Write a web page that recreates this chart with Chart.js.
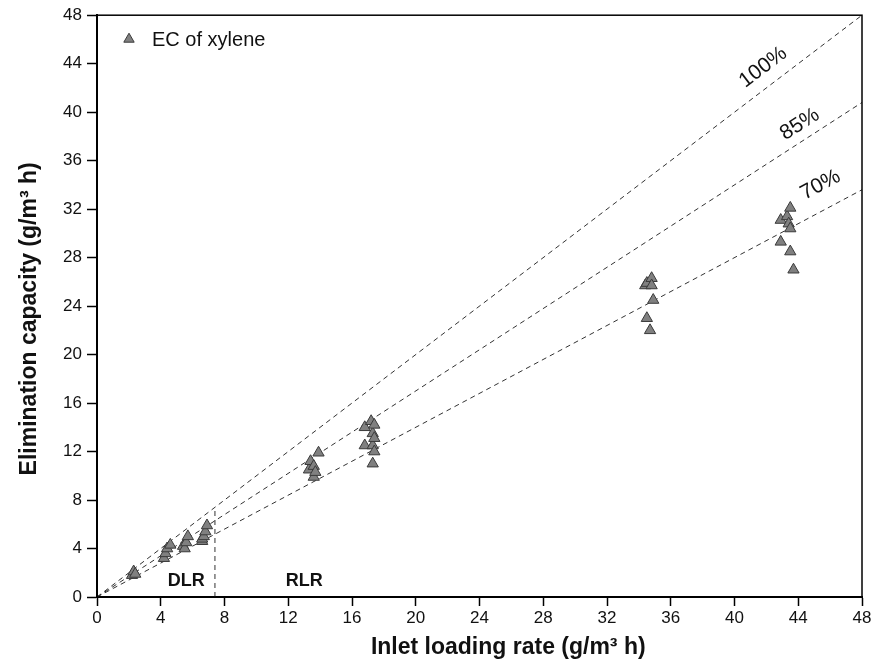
<!DOCTYPE html>
<html>
<head>
<meta charset="utf-8">
<script src="https://cdn.jsdelivr.net/npm/chart.js@4.4.0/dist/chart.umd.min.js"></script>
<style>
html, body { margin: 0; padding: 0; background: #fff; }
#wrap { width: 874px; height: 665px; }
</style>
</head>
<body>
<div id="wrap"><canvas id="ec"></canvas></div>
<script>
// inlet loading rate (g/m3 h) and elimination capacity (g/m3 h) of xylene
const ilr = [2.2, 2.3, 2.4,
    4.2, 4.3, 4.4, 4.6,
    5.4, 5.5, 5.6, 5.7,
    6.6, 6.6, 6.7, 6.8, 6.9,
    13.3, 13.4, 13.6, 13.6, 13.7, 13.9,
    16.8, 16.8, 17.2, 17.3, 17.3, 17.3, 17.4, 17.4, 17.4,
    34.4, 34.5, 34.5, 34.7, 34.8, 34.8, 34.9,
    42.9, 42.9, 43.3, 43.4, 43.5, 43.5, 43.5, 43.7]
const ecXylene = [1.8, 2.1, 1.9,
    3.2, 3.6, 4.0, 4.3,
    4.2, 4.0, 4.5, 5.0,
    4.6, 4.8, 5.0, 5.4, 5.9,
    10.5, 11.2, 10.8, 9.9, 10.3, 11.9,
    14.0, 12.5, 14.5, 13.5, 12.5, 11.0, 14.2, 13.1, 12.0,
    25.7, 25.9, 23.0, 22.0, 26.3, 25.7, 24.5,
    31.1, 29.3, 31.4, 30.8, 32.1, 30.4, 28.5, 27.0]

// removal efficiency guide lines, end points at x = 0 and x = 48
const lineX = [0, 48]
const line100 = [0, 48]
const line85 = [0, 40.8]
const line70 = [0, 33.6]
// boundary between DLR and RLR
const boundX = [7.4, 7.4]
const boundY = [0, 7.4]

const ticksX = [0, 4, 8, 12, 16, 20, 24, 28, 32, 36, 40, 44, 48]
const ticksY = [0, 4, 8, 12, 16, 20, 24, 28, 32, 36, 40, 44, 48]

function pts(xs, ys) {
    return xs.map((x, i) => ({ x: x, y: ys[i] }))
}

const guideStyle = {
    type: 'line',
    borderColor: '#333',
    borderWidth: 1,
    borderDash: [5, 4],
    pointRadius: 0,
    fill: false,
    showLine: true
}

// text notes placed in data units
const notes = [
    { text: '100%', x: 41.8, y: 43.7, slope: 1.0, font: '21px "Liberation Sans", Arial' },
    { text: '85%', x: 44.1, y: 39.0, slope: 0.85, font: '21px "Liberation Sans", Arial' },
    { text: '70%', x: 45.4, y: 34.0, slope: 0.70, font: '21px "Liberation Sans", Arial' },
    { text: 'DLR', x: 5.6, y: 1.3, slope: 0, font: 'bold 18px "Liberation Sans", Arial' },
    { text: 'RLR', x: 13.0, y: 1.3, slope: 0, font: 'bold 18px "Liberation Sans", Arial' }
]

const notePlugin = {
    id: 'notes',
    afterDatasetsDraw(chart) {
        const ctx = chart.ctx
        const xs = chart.scales.x, ys = chart.scales.y
        const a = chart.chartArea
        ctx.save()
        notes.forEach(n => {
            const px = xs.getPixelForValue(n.x)
            const py = ys.getPixelForValue(n.y)
            const dx = xs.getPixelForValue(10) - xs.getPixelForValue(0)
            const dy = ys.getPixelForValue(10 * n.slope) - ys.getPixelForValue(0)
            ctx.translate(px, py)
            ctx.rotate(Math.atan2(dy, dx))
            ctx.font = n.font
            ctx.fillStyle = '#111'
            ctx.textAlign = 'center'
            ctx.textBaseline = 'middle'
            ctx.fillText(n.text, 0, 0)
            ctx.setTransform(1, 0, 0, 1, 0, 0)
        })

        // legend in the top left corner of the plot
        const ds = chart.data.datasets[0]
        ctx.fillStyle = ds.pointBackgroundColor
        ctx.strokeStyle = ds.pointBorderColor
        ctx.lineWidth = 1
        Chart.helpers.drawPoint(ctx, { pointStyle: 'triangle', radius: 6, borderWidth: 1 },
            a.left + 32, a.top + 24)
        ctx.fillStyle = '#111'
        ctx.font = '20px "Liberation Sans", Arial'
        ctx.textAlign = 'left'
        ctx.textBaseline = 'middle'
        ctx.fillText(ds.label, a.left + 55, a.top + 25)

        // frame on top and right
        ctx.strokeStyle = '#000'
        ctx.lineWidth = 1.5
        ctx.strokeRect(a.left, a.top, a.right - a.left, a.bottom - a.top)
        ctx.restore()
    }
}

const tickFont = { family: '"Liberation Sans", Arial', size: 17 }
const titleFont = { family: '"Liberation Sans", Arial', size: 23, weight: 'bold' }

new Chart(document.getElementById('ec'), {
    type: 'scatter',
    data: {
        datasets: [
            {
                label: 'EC of xylene',
                data: pts(ilr, ecXylene),
                pointStyle: 'triangle',
                pointRadius: 6.5,
                pointBackgroundColor: '#808080',
                pointBorderColor: '#3a3a3a',
                pointBorderWidth: 1,
                backgroundColor: '#808080',
                borderColor: '#3a3a3a'
            },
            Object.assign({ label: '100%', data: pts(lineX, line100) }, guideStyle),
            Object.assign({ label: '85%', data: pts(lineX, line85) }, guideStyle),
            Object.assign({ label: '70%', data: pts(lineX, line70) }, guideStyle),
            Object.assign({ label: 'bound', data: pts(boundX, boundY) }, guideStyle)
        ]
    },
    options: {
        responsive: true,
        maintainAspectRatio: false,
        animation: false,
        layout: { padding: { top: 15, right: 12, left: 0, bottom: 0 } },
        plugins: {
            tooltip: { enabled: false },
            legend: { display: false }
        },
        scales: {
            x: {
                type: 'linear',
                min: 0,
                max: 48,
                afterBuildTicks: s => { s.ticks = ticksX.map(v => ({ value: v })) },
                afterFit: s => { s.height = 68 },
                grid: { drawOnChartArea: false, tickLength: 9, color: '#000', tickWidth: 1.5 },
                border: { color: '#000', width: 2 },
                ticks: { color: '#111', font: tickFont, padding: 2, maxRotation: 0 },
                title: {
                    display: true,
                    text: '         Inlet loading rate (g/m³ h)',
                    color: '#111',
                    font: titleFont,
                    padding: { top: 0, bottom: 4 }
                }
            },
            y: {
                type: 'linear',
                min: 0,
                max: 48,
                afterBuildTicks: s => { s.ticks = ticksY.map(v => ({ value: v })) },
                afterFit: s => { s.width = 97 },
                grid: { drawOnChartArea: false, tickLength: 10, color: '#000', tickWidth: 1.5 },
                border: { color: '#000', width: 2 },
                ticks: { color: '#111', font: tickFont, padding: 5 },
                title: {
                    display: true,
                    text: 'Elimination capacity (g/m³ h)    ',
                    color: '#111',
                    font: titleFont,
                    padding: { top: 16, bottom: 0 }
                }
            }
        }
    },
    plugins: [notePlugin]
})
</script>
</body>
</html>
